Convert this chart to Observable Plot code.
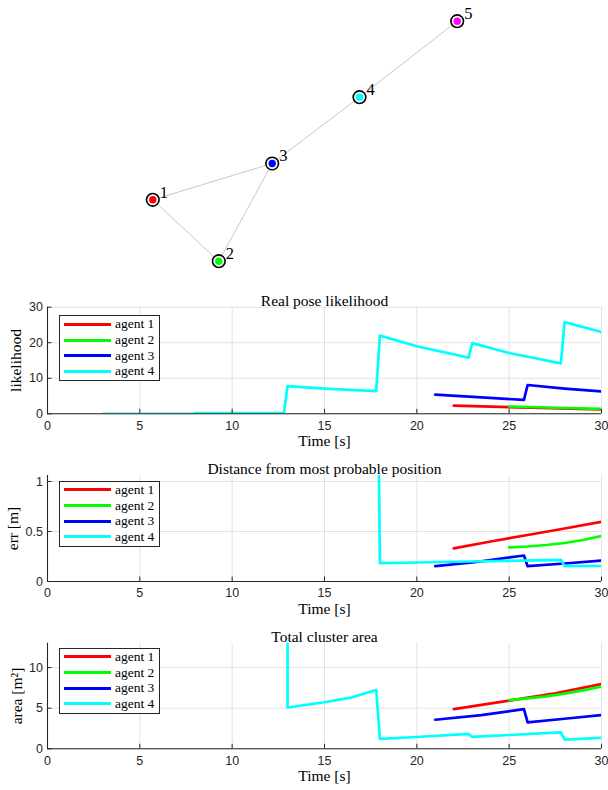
<!DOCTYPE html>
<html><head><meta charset="utf-8">
<script src="https://cdn.jsdelivr.net/npm/d3@7"></script>
<script src="https://cdn.jsdelivr.net/npm/@observablehq/plot@0.6"></script>
<style>
body{margin:0;background:#fff;}
#root{position:relative;width:608px;height:790px;overflow:hidden;background:#fff;}
.panel{position:absolute;left:0;width:608px;}
.panel svg{display:block;}
.legend{position:absolute;left:59px;width:101px;height:66px;border:1px solid #262626;background:#fff;box-sizing:border-box;font-family:"Liberation Serif",serif;font-size:13.5px;color:#000;}
.row{position:absolute;left:0;width:100%;height:16px;}
.sw{position:absolute;left:4px;top:6.5px;width:47px;height:3px;}
.lab{position:absolute;left:55px;top:0;line-height:16px;white-space:nowrap;}
</style>
</head><body>
<div id="root"></div>
<script>
// ---------- network graph ----------
const nodeIds = [1, 2, 3, 4, 5];
const nodeX = [0, 0.66, 1.194, 2.067, 3.044];
const nodeY = [0.614, 0, 0.977, 1.64, 2.40];
const nodeColors = ["#ff0000", "#00ff00", "#0000ff", "#00ffff", "#ff00ff"];
const edgeFrom = [1, 1, 2, 3, 4];
const edgeTo = [2, 3, 3, 4, 5];

// ---------- series ----------
const agentNames = ["agent 1", "agent 2", "agent 3", "agent 4"];
const agentColors = ["#ff0000", "#00ff00", "#0000ff", "#00ffff"];
const xTicks = [0, 5, 10, 15, 20, 25, 30];

// Real pose likelihood
const likeT1 = [22, 25, 30];
const likeV1 = [2.3, 1.9, 1.2];
const likeT2 = [25, 27.5, 30];
const likeV2 = [2.05, 1.7, 1.4];
const likeT3 = [21, 23.5, 25.8, 26, 28, 30];
const likeV3 = [5.4, 4.6, 3.9, 8.1, 7.1, 6.3];
const likeT4 = [3, 7.9, 8, 12.8, 13, 15, 17.8, 18, 20, 22.8, 23, 25, 27.8, 28, 30];
const likeV4 = [0, 0, 0.2, 0.2, 7.8, 7.1, 6.4, 22.0, 19.0, 15.8, 19.9, 17.1, 14.2, 25.8, 23.0];
const likeTicks = [0, 10, 20, 30];

// Distance from most probable position
const errT1 = [22, 24, 26, 28, 30];
const errV1 = [0.332, 0.40, 0.465, 0.53, 0.598];
const errT2 = [25, 26, 27, 28, 29, 30];
const errV2 = [0.342, 0.35, 0.365, 0.385, 0.415, 0.455];
const errT3 = [21, 23, 25.8, 26, 28, 30];
const errV3 = [0.153, 0.19, 0.26, 0.153, 0.18, 0.21];
const errT4 = [17.95, 18, 20, 22.8, 25, 27.8, 28, 30];
const errV4 = [1.06, 0.183, 0.19, 0.2, 0.207, 0.217, 0.155, 0.155];
const errTicks = [0, 0.5, 1];

// Total cluster area
const areaT1 = [22, 25, 27.5, 30];
const areaV1 = [4.88, 5.93, 6.83, 7.97];
const areaT2 = [25, 26, 27, 28, 29, 30];
const areaV2 = [6.0, 6.2, 6.45, 6.8, 7.2, 7.68];
const areaT3 = [21, 23.5, 25.8, 26, 28, 30];
const areaV3 = [3.58, 4.15, 4.88, 3.25, 3.7, 4.15];
const areaT4 = [13, 13, 15, 16.5, 17.8, 18, 20, 22.8, 23, 25, 27.8, 28, 30];
const areaV4 = [13, 5.08, 5.73, 6.34, 7.24, 1.22, 1.45, 1.83, 1.46, 1.7, 2.03, 1.14, 1.34];
const areaTicks = [0, 5, 10];

const SERIF = "Liberation Serif";
const SANS = "Liberation Sans";
const root = document.getElementById("root");

// network
const nodes = nodeIds.map((id, i) => ({id, x: nodeX[i], y: nodeY[i], color: nodeColors[i]}));
const edges = edgeFrom.map((f, i) => ({a: nodes[f - 1], b: nodes[edgeTo[i] - 1]}));
const net = Plot.plot({
  width: 608, height: 284, margin: 0,
  x: {domain: [0, 3.044], range: [152.3, 456.7], axis: null},
  y: {domain: [0, 2.40], range: [260.7, 20.7], axis: null},
  color: {type: "identity"},
  marks: [
    Plot.link(edges, {x1: d => d.a.x, y1: d => d.a.y, x2: d => d.b.x, y2: d => d.b.y, stroke: "#c8c8c8", strokeWidth: 1}),
    Plot.dot(nodes, {x: "x", y: "y", r: 6.3, fill: "white", stroke: "black", strokeWidth: 1.6}),
    Plot.dot(nodes, {x: "x", y: "y", r: 3.7, fill: "color"}),
    Plot.text(nodes, {x: "x", y: "y", text: "id", dx: 7, dy: -7.5, textAnchor: "start", fontFamily: SERIF, fontSize: 16.5, fill: "black"})
  ]
});
const netDiv = document.createElement("div");
netDiv.className = "panel"; netDiv.style.top = "0px";
netDiv.appendChild(net);
root.appendChild(netDiv);

function series(ts, vs) { return ts.map((t, i) => ({t, v: vs[i]})); }

function panel(cfg) {
  const plotH = cfg.height - cfg.mt - cfg.mb;
  const plotW = 608 - 47 - 7;
  const marks = [
    Plot.gridX(xTicks, {stroke: "#e2e2e2", strokeOpacity: 1}),
    Plot.gridY(cfg.yTicks, {stroke: "#e2e2e2", strokeOpacity: 1}),
  ];
  cfg.series.forEach((s, i) => {
    marks.push(Plot.line(s, {x: "t", y: "v", stroke: agentColors[i], strokeWidth: 2.7, clip: true}));
  });
  marks.push(
    Plot.ruleX([0], {stroke: "#262626", strokeWidth: 1.1}),
    Plot.ruleY([0], {stroke: "#262626", strokeWidth: 1.1}),
    Plot.tickX(xTicks, {x: d => d, insetTop: plotH - 4.5, stroke: "#262626", strokeWidth: 1}),
    Plot.tickY(cfg.yTicks, {y: d => d, insetRight: plotW - 4.5, stroke: "#262626", strokeWidth: 1}),
    Plot.axisX(xTicks, {tickSize: 0, tickPadding: 7, tickFormat: d => String(d), label: null, fontSize: 12.5, fill: "#262626"}),
    Plot.axisY(cfg.yTicks, {tickSize: 0, tickPadding: 4.5, tickFormat: d => String(d), label: null, fontSize: 12.5, fill: "#262626"}),
    Plot.text([cfg.title], {frameAnchor: "top", dy: -12.5, fontFamily: SERIF, fontSize: 15.5, fill: "black"}),
    Plot.text(["Time [s]"], {frameAnchor: "bottom", dy: 32.5, fontFamily: SERIF, fontSize: 15.5, fill: "black"}),
    Plot.text([cfg.ylabel], {frameAnchor: "left", textAnchor: "middle", dx: cfg.ylabelX - 47, rotate: -90, fontFamily: SERIF, fontSize: 15.5, fill: "black"})
  );
  const svg = Plot.plot({
    width: 608, height: cfg.height,
    marginLeft: 47, marginRight: 7, marginTop: cfg.mt, marginBottom: cfg.mb,
    style: {fontFamily: SANS, fontSize: "12.5px", color: "#262626", background: "transparent"},
    x: {domain: [0, 30]},
    y: {domain: cfg.yDomain},
    marks
  });
  const div = document.createElement("div");
  div.className = "panel";
  div.style.top = cfg.top + "px";
  div.style.height = cfg.height + "px";
  div.appendChild(svg);
  const lg = document.createElement("div");
  lg.className = "legend";
  lg.style.top = (cfg.legendTop - cfg.top) + "px";
  const centers = [8.3, 24, 39.7, 55.3];
  agentNames.forEach((name, i) => {
    const r = document.createElement("div");
    r.className = "row";
    r.style.top = (centers[i] - 8) + "px";
    const sw = document.createElement("div");
    sw.className = "sw"; sw.style.background = agentColors[i];
    const lb = document.createElement("div");
    lb.className = "lab"; lb.textContent = name;
    r.appendChild(sw); r.appendChild(lb);
    lg.appendChild(r);
  });
  div.appendChild(lg);
  root.appendChild(div);
}

panel({
  top: 284, height: 168, mt: 22.7, mb: 38.7,
  title: "Real pose likelihood", ylabel: "likelihood", ylabelX: 16,
  yDomain: [0, 30], yTicks: likeTicks, legendTop: 315,
  series: [series(likeT1, likeV1), series(likeT2, likeV2), series(likeT3, likeV3), series(likeT4, likeV4)]
});
panel({
  top: 452, height: 166, mt: 23, mb: 37,
  title: "Distance from most probable position", ylabel: "err [m]", ylabelX: 12.7,
  yDomain: [0, 1.06], yTicks: errTicks, legendTop: 480.7,
  series: [series(errT1, errV1), series(errT2, errV2), series(errT3, errV3), series(errT4, errV4)]
});
panel({
  top: 618, height: 172, mt: 24.7, mb: 41.7,
  title: "Total cluster area", ylabel: "area [m²]", ylabelX: 16.7,
  yDomain: [0, 13], yTicks: areaTicks, legendTop: 647.7,
  series: [series(areaT1, areaV1), series(areaT2, areaV2), series(areaT3, areaV3), series(areaT4, areaV4)]
});
</script>
</body></html>
